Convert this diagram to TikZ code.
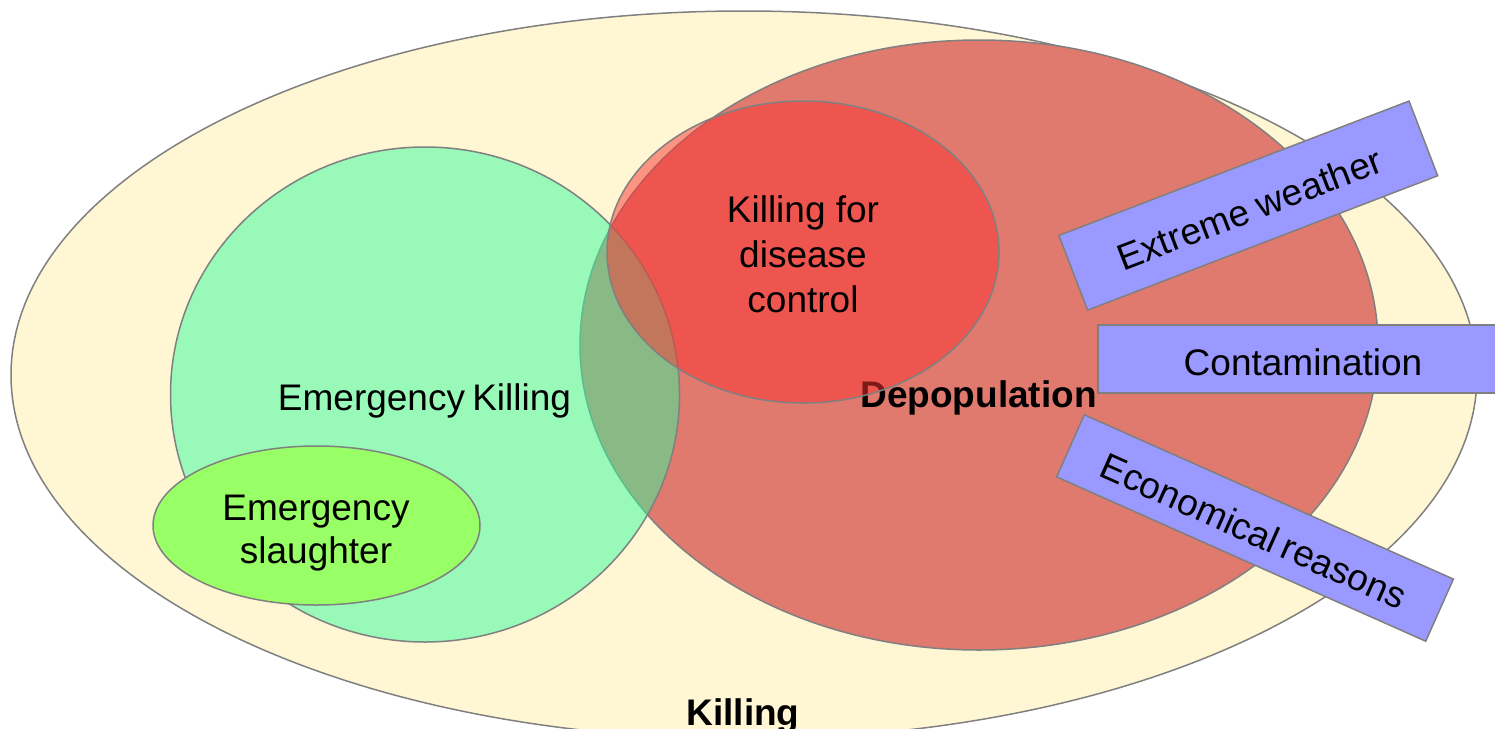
\documentclass[tikz,border=0pt]{standalone}
\usepackage{fontspec}
\setmainfont{Liberation Sans}
\usetikzlibrary{shapes.geometric}

\definecolor{cream}{RGB}{255,246,212}
\definecolor{depopred}{RGB}{224,121,110}
\definecolor{emkillgreen}{RGB}{51,252,157}
\definecolor{diseasered}{RGB}{252,51,50}
\definecolor{slaughtergreen}{RGB}{153,255,102}
\definecolor{reasonblue}{RGB}{153,153,255}
\definecolor{edgegray}{RGB}{128,128,128}

\begin{document}
\begin{tikzpicture}[x=1pt,y=-1pt,
  setshape/.style={ellipse, draw=edgegray, line width=1.5pt, inner sep=0pt, outer sep=0pt},
  halfset/.style={setshape, fill opacity=0.5},
  lbl/.style={font=\fontsize{37}{45}\selectfont, inner sep=0pt, align=center},
  boldlbl/.style={lbl, font=\fontsize{37}{45}\selectfont\bfseries},
  reasonbox/.style={draw=edgegray, line width=1.5pt, fill=reasonblue, inner sep=0pt,
    font=\fontsize{37}{45}\selectfont, text height=33pt, text depth=0pt}
]
\useasboundingbox (0,0) rectangle (1495,728);

% the whole set of killing
\node[setshape, fill=cream, minimum width=1466pt, minimum height=728pt] (killing) at (744,375) {};
\node[boldlbl, anchor=base] (killinglbl) at (743,725) {Killing};

% depopulation
\node[setshape, fill=depopred, minimum width=798pt, minimum height=610pt] (depop) at (979,345) {};
\node[boldlbl, anchor=base] (depoplbl) at (978.5,407) {Depopulation};

% emergency killing, half transparent over the depopulation set
\node[halfset, fill=emkillgreen, minimum width=509pt, minimum height=495pt] (emkill) at (425,394.5) {};

% killing for disease control
\node[halfset, fill=diseasered, minimum width=392pt, minimum height=302pt] (disease) at (803,252) {};

% emergency slaughter
\node[setshape, fill=slaughtergreen, minimum width=327pt, minimum height=159pt] (slaughter) at (316.5,525.5) {};

% labels of the sets
\node[lbl] (diseaselbl) at (803,254.5) {Killing for\\disease\\control};
\node[lbl, anchor=base] (emkilllbl) at (424.5,410) {Emergency\hspace{-3pt} Killing};
\node[lbl, font=\fontsize{37}{42.3}\selectfont] (slaughterlbl) at (316,533) {Emergency\\slaughter};

% reasons for depopulation
\node[reasonbox, rotate=21, minimum width=375pt, minimum height=80pt] (weather) at (1248.3,205.6) {Extreme weather};
\node[reasonbox, minimum width=410pt, minimum height=68pt] (contamination) at (1303,359) {Contamination};
\node[reasonbox, rotate=-24, minimum width=404pt, minimum height=68pt] (economy) at (1255,528) {Economical\hspace{-3pt} reasons};
\end{tikzpicture}
\end{document}
